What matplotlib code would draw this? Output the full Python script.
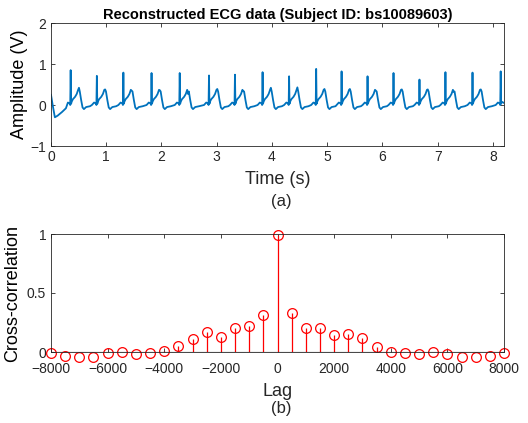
import matplotlib
matplotlib.use("Agg")
import matplotlib.pyplot as plt
import numpy as np

plt.rcParams["font.family"] = ["Liberation Sans", "DejaVu Sans"]

# --- ECG data ---
# R-peak times (s) and heights (V)
r_times = [0.356, 0.83, 1.31, 1.82, 2.33, 2.86, 3.33, 3.83, 4.31, 4.80,
           5.26, 5.73, 6.20, 6.67, 7.14, 7.63, 8.14]
r_amps = [0.85, 0.71, 0.79, 0.78, 0.78, 0.72, 0.74, 0.80, 0.70, 0.88,
          0.82, 0.70, 0.78, 0.62, 0.80, 0.79, 0.82]
# T-wave heights (V), none after the last beat
t_amps = [0.42, 0.38, 0.35, 0.36, 0.27, 0.39, 0.34, 0.42, 0.43, 0.39,
          0.39, 0.35, 0.38, 0.38, 0.32, 0.38]
# beat shape read from a typical beat: offset from R (s), level (V)
# None = use R height, "T" = use T height
beat_offsets = [-0.09, -0.05, -0.02, -0.008, 0.0, 0.008, 0.018, 0.04, 0.08,
                0.11, 0.135, 0.15, 0.165, 0.19, 0.215, 0.24, 0.28, 0.35]
beat_levels = [0.0, 0.06, 0.04, 0.0, None, 0.03, 0.08, 0.14, 0.2,
               0.27, 0.37, "T", 0.33, 0.12, -0.06, -0.1, -0.05, -0.03]
# start of the record before the first beat, and end after the last
start_t = [0.0, 0.03, 0.07, 0.12, 0.2, 0.27]
start_v = [0.25, 0.0, -0.3, -0.26, -0.17, -0.08]
end_t = [8.2]
end_v = [0.05]

# --- cross-correlation data ---
lags = list(range(-8000, 8001, 500))
xcorr = [-0.01, -0.03, -0.04, -0.04, -0.01, 0.0, -0.02, -0.01, 0.01, 0.05,
         0.11, 0.17, 0.13, 0.20, 0.22, 0.31, 0.99, 0.33, 0.20, 0.20,
         0.14, 0.15, 0.115, 0.045, 0.0, -0.01, -0.02, 0.0, -0.02, -0.04,
         -0.045, -0.03, -0.01]


def buildEcg():
    t = list(start_t)
    v = list(start_v)
    for i, (rt, ra) in enumerate(zip(r_times, r_amps)):
        last = i == len(r_times) - 1
        for off, lev in zip(beat_offsets, beat_levels):
            if rt + off <= t[-1]:
                continue
            if last and off > 0.03:
                break
            if lev is None:
                val = ra
            elif lev == "T":
                val = t_amps[i]
            else:
                val = lev
            t.append(rt + off)
            v.append(val)
    t += end_t
    v += end_v
    return np.array(t), np.array(v)


def styleAxes(ax, xpad):
    for s in ax.spines.values():
        s.set_color("#262626")
        s.set_linewidth(0.6)
    ax.tick_params(direction="in", length=3, width=0.6, colors="#262626",
                   labelsize=10, top=True, right=True, labeltop=False,
                   labelright=False)
    ax.tick_params(axis="x", pad=xpad)


fig = plt.figure(figsize=(5.28, 4.23), dpi=100)

# top panel
ax1 = fig.add_axes([51 / 528, 1 - 146 / 423, 453 / 528, 123 / 423])
et, ev = buildEcg()
ax1.plot(et, ev, color="#0072BD", linewidth=1.3)
ax1.set_xlim(0, 8.2)
ax1.set_ylim(-1, 2)
ax1.set_xticks(range(0, 9))
ax1.set_yticks([-1, 0, 1, 2])
styleAxes(ax1, 3)
ax1.set_title("Reconstructed ECG data (Subject ID: bs10089603)",
              fontsize=10.5, fontweight="bold", pad=3)
ax1.set_ylabel("Amplitude (V)", fontsize=13, labelpad=2)
fig.text(278 / 528, 1 - 180 / 423, "Time (s)", fontsize=13,
         ha="center", va="center", color="#262626")
fig.text(281 / 528, 1 - 201 / 423, "(a)", fontsize=12,
         ha="center", va="center", color="#262626")

# bottom panel
ax2 = fig.add_axes([51 / 528, 1 - 352 / 423, 453 / 528, 118 / 423])
ml, sl, bl = ax2.stem(lags, xcorr, linefmt="r-", markerfmt="o", basefmt="k-")
ml.set_markerfacecolor("none")
ml.set_markeredgecolor("red")
ml.set_markersize(7)
ml.set_markeredgewidth(0.9)
ml.set_clip_on(False)
sl.set_linewidth(0.9)
bl.set_linewidth(0.8)
ax2.set_xlim(-8000, 8000)
ax2.set_ylim(0, 1)
ax2.set_xticks(range(-8000, 8001, 2000))
ax2.set_yticks([0, 0.5, 1])
ax2.set_yticklabels(["0", "0.5", "1"])
styleAxes(ax2, 7)
ax2.set_ylabel("Cross-correlation", fontsize=13, labelpad=4)
fig.text(278 / 528, 1 - 391 / 423, "Lag", fontsize=13,
         ha="center", va="center", color="#262626")
fig.text(281 / 528, 1 - 408 / 423, "(b)", fontsize=12,
         ha="center", va="center", color="#262626")

fig.savefig("out.png", dpi=100)
